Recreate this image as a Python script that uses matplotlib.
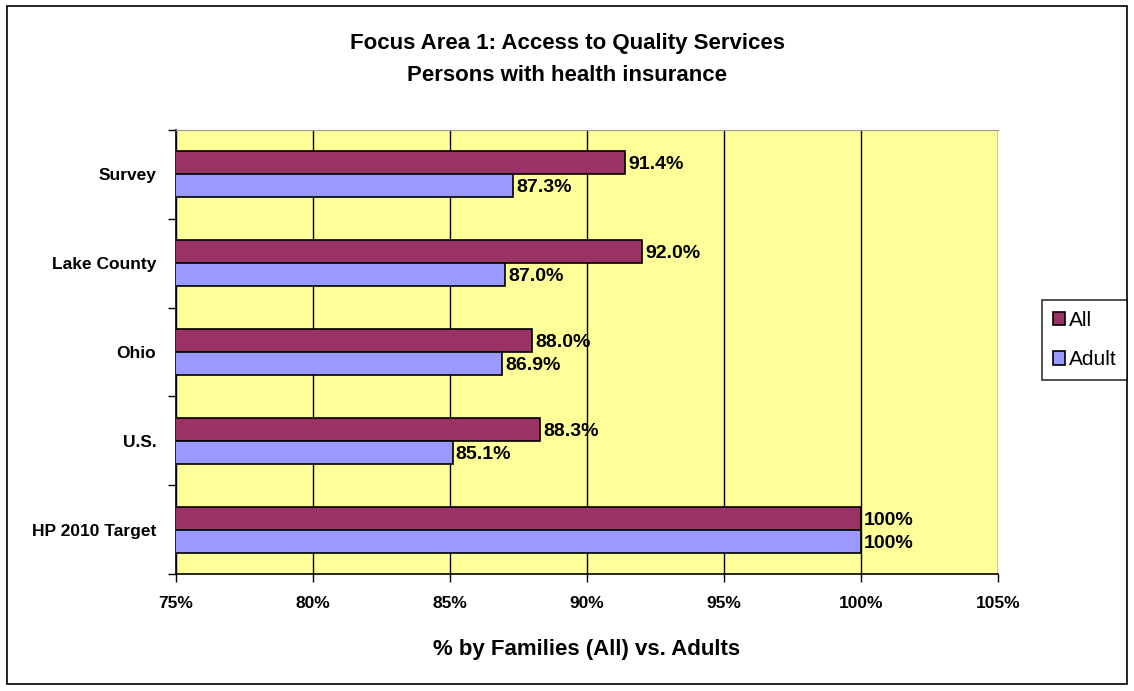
import matplotlib.pyplot as plt
import matplotlib.ticker as ticker
from matplotlib.patches import Rectangle
import numpy as np

plt.rcParams['font.family'] = ['Liberation Sans', 'DejaVu Sans']

categories = ['Survey', 'Lake County', 'Ohio', 'U.S.', 'HP 2010 Target']
all_vals = [91.4, 92.0, 88.0, 88.3, 100.0]
adult_vals = [87.3, 87.0, 86.9, 85.1, 100.0]
all_labels = ['91.4%', '92.0%', '88.0%', '88.3%', '100%']
adult_labels = ['87.3%', '87.0%', '86.9%', '85.1%', '100%']

c_all = '#993366'
c_adult = '#9999FF'

fig = plt.figure(figsize=(11.34, 6.91), dpi=100)
# figure border
fig.patches.append(Rectangle((0.006, 0.01), 0.988, 0.981, transform=fig.transFigure,
                             fill=False, edgecolor='black', linewidth=1.2))

ax = fig.add_axes([0.155, 0.169, 0.725, 0.643])
ax.set_facecolor('#FFFF99')

y = np.arange(len(categories))
h = 0.26
ax.barh(y - h / 2, all_vals, height=h, left=0, color=c_all, edgecolor='black',
        linewidth=1.2, label='All', zorder=3)
ax.barh(y + h / 2, adult_vals, height=h, left=0, color=c_adult, edgecolor='black',
        linewidth=1.2, label='Adult', zorder=3)

for i in range(len(categories)):
    ax.text(all_vals[i] + 0.12, y[i] - h / 2 + 0.02, all_labels[i], va='center', ha='left',
            fontsize=14, fontweight='bold', zorder=4)
    ax.text(adult_vals[i] + 0.12, y[i] + h / 2 + 0.02, adult_labels[i], va='center', ha='left',
            fontsize=14, fontweight='bold', zorder=4)

ax.set_xlim(75, 105)
ax.set_ylim(len(categories) - 0.5, -0.5)
ax.xaxis.set_major_locator(ticker.MultipleLocator(5))
ax.xaxis.set_major_formatter(ticker.FuncFormatter(lambda v, p: '%d%%' % round(v)))
ax.grid(axis='x', color='black', linewidth=1, zorder=1)

ax.set_yticks(y)
ax.set_yticklabels(categories, fontsize=12.5, fontweight='bold')
ax.set_yticks(np.arange(-0.5, len(categories)), minor=True)
ax.tick_params(axis='y', which='major', length=0, pad=14)
ax.tick_params(axis='y', which='minor', length=6, width=1, direction='out')
ax.tick_params(axis='x', length=6, width=1, direction='out', labelsize=12.5, pad=10)
for lab in ax.get_xticklabels():
    lab.set_fontweight('bold')

ax.spines['top'].set_color('#999999')
ax.spines['right'].set_visible(False)
ax.spines['left'].set_linewidth(1.2)
ax.spines['bottom'].set_linewidth(1.2)

ax.set_xlabel('% by Families (All) vs. Adults', fontsize=16, fontweight='bold', labelpad=20)

fig.text(0.5, 0.937, 'Focus Area 1: Access to Quality Services', ha='center', va='center',
         fontsize=16, fontweight='bold')
fig.text(0.5, 0.891, 'Persons with health insurance', ha='center', va='center',
         fontsize=16, fontweight='bold')

leg = fig.legend(loc='center left', bbox_to_anchor=(0.919, 0.508), fontsize=15,
                 frameon=True, fancybox=False, edgecolor='black', handlelength=0.6,
                 handleheight=0.6, handletextpad=0.2, borderpad=0.5, labelspacing=1.0,
                 borderaxespad=0)
leg.get_frame().set_linewidth(1.2)

fig.savefig('out.png', dpi=100)
